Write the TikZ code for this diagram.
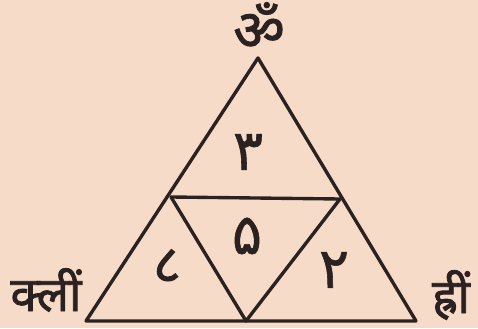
\documentclass[tikz,border=0pt]{standalone}
\usepackage{fontspec}
\newfontfamily\devfont[Script=Devanagari, FakeBold=1.6]{Noto Sans}
\newfontfamily\digitfont[FakeBold=1]{DejaVu Sans}
\usetikzlibrary{positioning}
\definecolor{paper}{HTML}{F6DCC8}
\definecolor{ink}{HTML}{2A2120}

\begin{document}
\begin{tikzpicture}[
    x=0.025cm, y=-0.025cm,
    edge/.style={draw=ink, line width=2.4pt, line join=round, line cap=round},
    mantra/.style={text=ink, inner sep=0pt, font=\devfont\fontsize{34}{40}\selectfont},
    digit/.style={text=ink, inner sep=0pt, font=\digitfont\fontsize{40}{44}\selectfont}
]

% ==================== PAPER ====================
\fill[paper] (0,0) rectangle (478,328);
\useasboundingbox (0,0) rectangle (478,328);

% ==================== CORNERS ====================
\coordinate (apex) at (258,58);
\coordinate (left) at (86,321);
\coordinate (right) at (416,321);
\coordinate (midleft) at (171,197);
\coordinate (midright) at (340,199);
\coordinate (midbottom) at (246,321);

% ==================== TRIANGLES ====================
\draw[edge] (apex) -- (left) -- (right) -- cycle;
\draw[edge] (midleft) -- (midright) -- (midbottom) -- cycle;

% ==================== NUMBERS ====================
\node[digit] (top) at (248,152) {۳};
\node[digit] (centre) at (247,236) {۵};
\node[digit, font=\devfont\fontsize{38}{44}\selectfont] (lefty) at (167,266) {८};
\node[digit] (righty) at (334,270) {۲};

% ==================== MANTRAS ====================
\node[mantra, font=\devfont\fontsize{40}{44}\selectfont] (om) at (259,26) {ॐ};
\node[mantra] (klim) at (46,290) {क्लीं};
\node[mantra] (hrim) at (451,295) {ह्रीं};

\end{tikzpicture}
\end{document}
